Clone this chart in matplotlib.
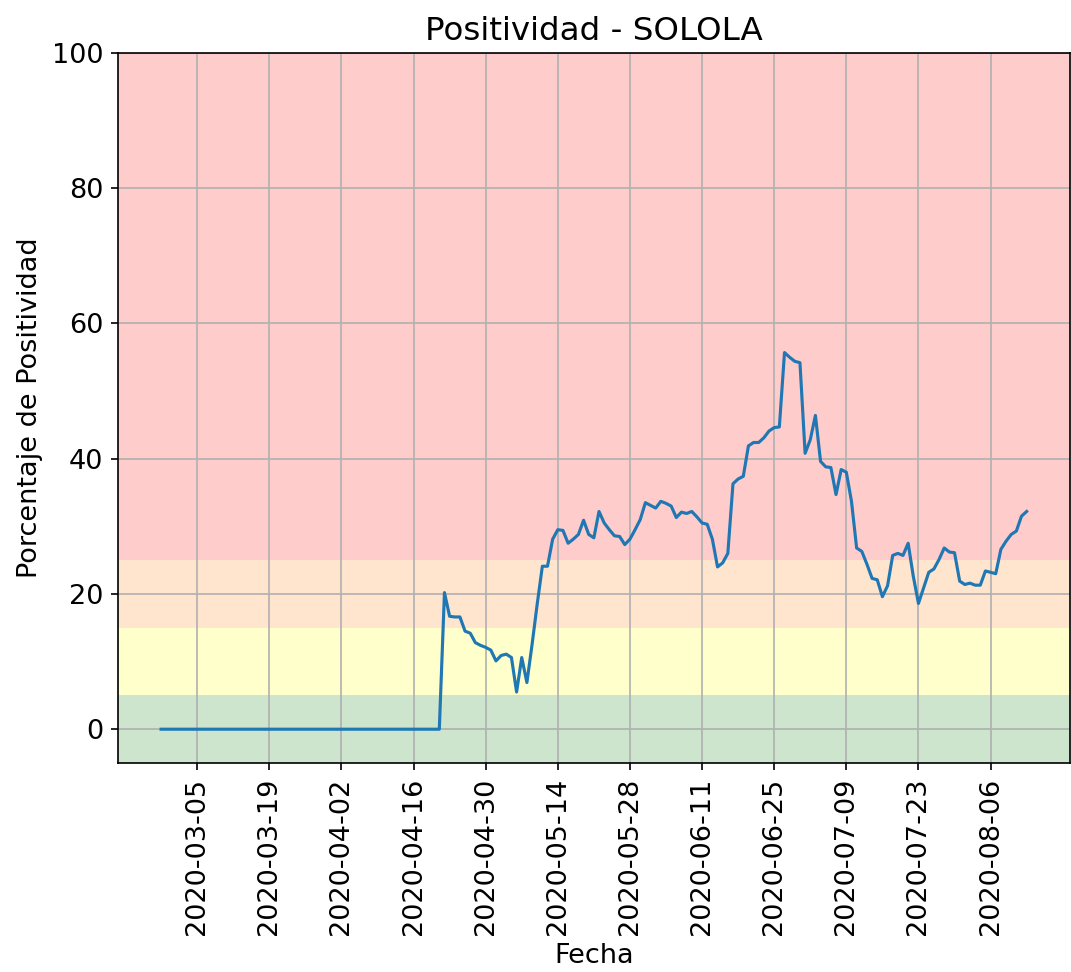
import matplotlib
matplotlib.use("Agg")
import matplotlib.pyplot as plt
import matplotlib.dates as mdates
import numpy as np
import pandas as pd

plt.rcParams["font.size"] = 13

# daily positivity, 2020-02-27 .. 2020-08-13
start = "2020-02-27"
zeros_before = [0.0] * 55  # 02-27 .. 04-21
positividad = zeros_before + [
    20.2, 16.7, 16.6, 16.6, 14.5, 14.2, 12.8, 12.4, 12.1, 11.7,
    10.1, 10.9, 11.1, 10.6, 5.5, 10.6, 6.9, 12.5, 18.5, 24.1,
    24.1, 28.1, 29.5, 29.4, 27.5, 28.1, 28.8, 30.9, 28.8, 28.3,
    32.2, 30.5, 29.5, 28.6, 28.5, 27.3, 28.1, 29.5, 31.0, 33.5,
    33.1, 32.7, 33.7, 33.4, 33.0, 31.3, 32.1, 31.9, 32.2, 31.4,
    30.5, 30.3, 28.1, 24.0, 24.6, 26.0, 36.3, 37.0, 37.4, 41.9,
    42.4, 42.4, 43.1, 44.1, 44.6, 44.7, 55.7, 55.0, 54.4, 54.2,
    40.8, 42.8, 46.4, 39.6, 38.8, 38.7, 34.7, 38.4, 38.0, 33.7,
    26.8, 26.3, 24.4, 22.3, 22.1, 19.6, 21.2, 25.7, 26.0, 25.7,
    27.5, 22.6, 18.6, 20.9, 23.2, 23.7, 25.1, 26.8, 26.2, 26.1,
    21.9, 21.4, 21.6, 21.3, 21.3, 23.4, 23.2, 23.0, 26.6, 27.8,
    28.8, 29.3, 31.5, 32.2,
]
fechas = pd.date_range(start, periods=len(positividad), freq="D")

# bands: (low, high, colour)
bandas = [(-5, 5, "green"), (5, 15, "yellow"), (15, 25, "tab:orange"), (25, 100, "red")]
ticks = pd.date_range("2020-03-05", "2020-08-06", freq="14D")

fig, ax = plt.subplots(figsize=(7.14, 6.48), dpi=150)
fig.subplots_adjust(left=0.110, right=0.999, top=0.9455, bottom=0.215)

for lo, hi, c in bandas:
    ax.axhspan(lo, hi, color=c, alpha=0.2, lw=0)

ax.plot(fechas, positividad)
ax.set_ylim(-5, 100)
ax.set_xticks(ticks)
ax.xaxis.set_major_formatter(mdates.DateFormatter("%Y-%m-%d"))
plt.setp(ax.get_xticklabels(), rotation=90)
ax.grid(True)
ax.set_title("Positividad - SOLOLA")
ax.set_xlabel("Fecha")
ax.set_ylabel("Porcentaje de Positividad")

fig.savefig("out.png", dpi=150)
